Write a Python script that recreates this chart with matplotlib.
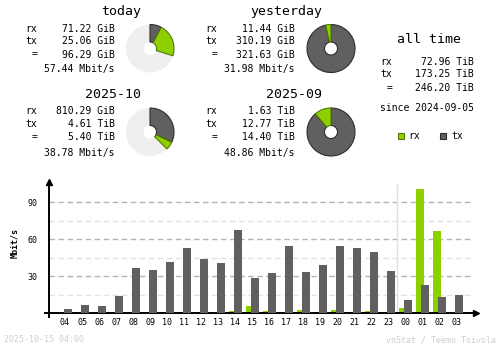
import numpy as np
import matplotlib
matplotlib.use("Agg")
import matplotlib.pyplot as plt
from matplotlib.patches import Wedge, Rectangle

plt.rcParams['font.family'] = ['DejaVu Sans Mono']
plt.rcParams['lines.scale_dashes'] = False

# summary values
periods = ["today", "yesterday", "2025-10", "2025-09"]
rx_vals = [71.22, 11.44, 810.29, 1.63]
rx_units = ["GiB", "GiB", "GiB", "TiB"]
tx_vals = [25.06, 310.19, 4.61, 12.77]
tx_units = ["GiB", "GiB", "TiB", "TiB"]
tot_vals = [96.29, 321.63, 5.40, 14.40]
tot_units = ["GiB", "GiB", "TiB", "TiB"]
rates = [57.44, 31.98, 38.78, 48.86]

alltime_rx = 72.96
alltime_tx = 173.25
alltime_tot = 246.20
since = "2024-09-05"

# hourly rates (Mbit/s)
hours = ["04", "05", "06", "07", "08", "09", "10", "11", "12", "13", "14", "15",
         "16", "17", "18", "19", "20", "21", "22", "23", "00", "01", "02", "03"]
rx_rate = [1.0, 0.2, 1.0, 0.2, 1.0, 1.0, 1.0, 1.0, 1.0, 1.0, 1.9, 5.9,
           1.9, 1.0, 2.7, 1.0, 2.7, 1.0, 1.9, 1.0, 4.3, 100.8, 66.8, 0.0]
tx_rate = [3.5, 6.8, 5.9, 14.0, 36.8, 35.1, 41.6, 53.0, 44.0, 40.8, 67.6, 28.6,
           32.7, 54.6, 33.5, 39.2, 54.6, 53.0, 49.7, 34.3, 10.8, 23.0, 13.2, 14.9]

c_rx = '#8ecf00'
c_tx = '#606060'
c_rx_edge = '#4f7a00'
c_tx_edge = '#2e2e2e'

W, H = 500, 348
fig = plt.figure(figsize=(W/100, H/100), dpi=100)

# overlay axes in pixel coordinates for the summary part
ov = fig.add_axes([0, 0, 1, 1])
ov.set_xlim(0, W)
ov.set_ylim(H, 0)
ov.axis('off')
ov.patch.set_alpha(0)

def to_gib(v, u):
    return v * 1024 if u == "TiB" else v

# block layout: value column right edge, row y's, title y, pie centre
val_x = [115, 295, 115, 295]
row_y = [[29, 41, 54.5, 69], [29, 41, 54.5, 69], [111.5, 124, 137.5, 153], [111.5, 124, 137.5, 153]]
title_y = [11, 11, 94.5, 94.5]
title_x = [141, 322, 141, 322]
pie_c = [(150, 48.5), (331, 48.5), (150, 132), (331, 132)]
R, r_hole = 24, 6.5

for i in range(4):
    vx = val_x[i]
    ys = row_y[i]
    ov.text(title_x[i], title_y[i], periods[i], ha='right', va='center', fontsize=9.5)
    ov.text(vx - 78, ys[0], "rx", ha='right', va='center', fontsize=7)
    ov.text(vx - 78, ys[1], "tx", ha='right', va='center', fontsize=7)
    ov.text(vx - 78, ys[2], "=", ha='right', va='center', fontsize=7)
    ov.text(vx, ys[0], "%.2f %s" % (rx_vals[i], rx_units[i]), ha='right', va='center', fontsize=7)
    ov.text(vx, ys[1], "%.2f %s" % (tx_vals[i], tx_units[i]), ha='right', va='center', fontsize=7)
    ov.text(vx, ys[2], "%.2f %s" % (tot_vals[i], tot_units[i]), ha='right', va='center', fontsize=7)
    ov.text(vx, ys[3], "%.2f Mbit/s" % rates[i], ha='right', va='center', fontsize=7)

    # pie: compared with the other period of the same pair
    j = i + 1 if i % 2 == 0 else i - 1
    ref = max(to_gib(tot_vals[i], tot_units[i]), to_gib(tot_vals[j], tot_units[j]))
    f_tx = to_gib(tx_vals[i], tx_units[i]) / ref
    f_rx = to_gib(rx_vals[i], rx_units[i]) / ref
    c = pie_c[i]
    ov.add_patch(Wedge(c, R, 0, 360, width=R - r_hole, fc='#efefef', ec='none'))
    a0 = -90
    a1 = a0 + f_tx * 360
    a2 = a1 + f_rx * 360
    ov.add_patch(Wedge(c, R, a0, a1, width=R - r_hole, fc=c_tx, ec=c_tx_edge, lw=0.8))
    ov.add_patch(Wedge(c, R, a1, a2, width=R - r_hole, fc=c_rx, ec=c_rx_edge, lw=0.8))

# all time block
ov.text(429, 39.5, "all time", ha='center', va='center', fontsize=9.5)
ov.text(392, 62, "rx", ha='right', va='center', fontsize=7)
ov.text(392, 74, "tx", ha='right', va='center', fontsize=7)
ov.text(392, 88, "=", ha='right', va='center', fontsize=7)
ov.text(474, 62, "%.2f TiB" % alltime_rx, ha='right', va='center', fontsize=7)
ov.text(474, 74, "%.2f TiB" % alltime_tx, ha='right', va='center', fontsize=7)
ov.text(474, 88, "%.2f TiB" % alltime_tot, ha='right', va='center', fontsize=7)
ov.text(474, 108, "since " + since, ha='right', va='center', fontsize=7)

# legend
ov.add_patch(Rectangle((398, 133), 6, 6, fc=c_rx, ec=c_rx_edge, lw=0.8))
ov.text(408, 136, "rx", ha='left', va='center', fontsize=7)
ov.add_patch(Rectangle((440, 133), 6, 6, fc=c_tx, ec=c_tx_edge, lw=0.8))
ov.text(451, 136, "tx", ha='left', va='center', fontsize=7)

# footer and y label
ov.text(4, 340, "2025-10-15 04:00", ha='left', va='center', fontsize=6, color='#cfcfcf')
ov.text(496, 340, "vnStat / Teemu Toivola", ha='right', va='center', fontsize=6, color='#cfcfcf')
ov.text(15, 243, "Mbit/s", ha='center', va='center', fontsize=6, rotation=90, fontweight='bold')

# hourly bar chart
slot = 17.03          # px per hour
ppu = 37 / 30.0       # px per Mbit/s
x0_px, y0_px = 65, 313.3
xl, xr = -1.2, 24.13
yb, yt = -2.8, 106.5
left = x0_px + xl * slot
right = x0_px + xr * slot
bottom = y0_px - yb * ppu
top = y0_px - yt * ppu
ax = fig.add_axes([left / W, (H - bottom) / H, (right - left) / W, (bottom - top) / H])
ax.patch.set_alpha(0)
ax.set_xlim(xl, xr)
ax.set_ylim(yb, yt)

x = np.arange(len(hours))
yaxis_x = (48.5 - x0_px) / slot
grid_end = (472.7 - x0_px) / slot
for v in [15, 45, 75]:
    ax.hlines(v, yaxis_x, grid_end, colors='#e2e2e2', lw=1.0, linestyles=(0, (4, 2.5)), zorder=1)
for v in [30, 60, 90]:
    ax.hlines(v, yaxis_x, grid_end, colors='#b4b4b4', lw=1.0, linestyles=(0, (4, 2.5)), zorder=1)
ax.vlines(19.5, 0, 104.8, colors='#e0e0e0', lw=1.0, zorder=1)

ax.bar(x - 0.147, rx_rate, width=0.47, color=c_rx, zorder=2)
ax.bar(x + 0.147, tx_rate, width=0.47, color=c_tx, zorder=3)

for s in ['top', 'right']:
    ax.spines[s].set_visible(False)
ax.spines['left'].set_position(('data', yaxis_x))
ax.spines['bottom'].set_position(('data', 0))
ax.spines['left'].set_linewidth(1.4)
ax.spines['bottom'].set_linewidth(1.4)
ax.plot([yaxis_x], [yt], marker='^', color='black', markersize=4, clip_on=False, zorder=5)
ax.plot([xr], [0], marker='>', color='black', markersize=4, clip_on=False, zorder=5)

ax.set_xticks(x)
ax.set_xticklabels(hours, fontsize=6)
ax.set_yticks([30, 60, 90])
ax.set_yticklabels(["30", "60", "90"], fontsize=6)
ax.tick_params(axis='x', length=0, pad=3.5)
ax.tick_params(axis='y', length=0, pad=8)

fig.savefig("out.png", dpi=100)
